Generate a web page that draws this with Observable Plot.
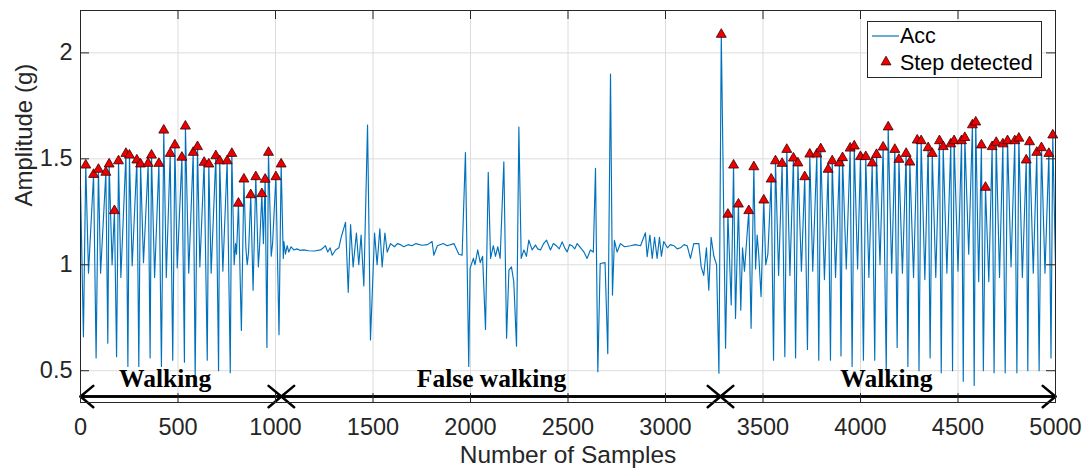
<!DOCTYPE html>
<html>
<head>
<meta charset="utf-8">
<script src="https://cdn.jsdelivr.net/npm/d3@7"></script>
<script src="https://cdn.jsdelivr.net/npm/@observablehq/plot@0.6"></script>
<style>
  body { margin: 0; background: #fff; }
  #wrap { position: relative; width: 1086px; height: 469px; font-family: "Liberation Sans", Arial, sans-serif; color: #262626; }
  #legend { position: absolute; left: 867px; top: 21px; width: 175px; height: 57px; border: 1px solid #262626; background: #fff; box-sizing: border-box; }
  #legend .lab { position: absolute; font-size: 21.5px; line-height: 22px; color: #000; white-space: nowrap; }
  #legend svg { position: absolute; overflow: visible; }
</style>
</head>
<body>
<div id="wrap"></div>
<script>
// ---------------- data ----------------
const accX = [
  0, 15, 27, 41, 67, 80, 92, 103, 130, 140, 147, 162, 174, 185, 195, 207, 233, 243, 251, 265,
  289, 299, 308, 323, 347, 357, 364, 380, 402, 415, 427, 440, 460, 473, 484, 496, 520, 533, 538, 555,
  578, 588, 600, 612, 634, 650, 658, 670, 694, 708, 714, 730, 752, 768, 776, 788, 795, 800, 810, 825,
  838, 848, 855, 862, 873, 885, 899, 912, 918, 930, 938, 947, 956, 964, 978, 985, 1002, 1018, 1029, 1040,
  1043, 1051, 1060, 1068, 1080, 1094, 1110, 1125, 1145, 1170, 1200, 1231, 1245, 1256, 1268, 1280, 1291, 1308, 1325,
  1337, 1359, 1373, 1385, 1398, 1415, 1427, 1439, 1453, 1472, 1487, 1508, 1521, 1535, 1547, 1561, 1573, 1590,
  1610, 1625, 1641, 1658, 1680, 1700, 1720, 1750, 1780, 1803, 1812, 1830, 1860, 1880, 1915, 1940, 1957,
  1974, 1991, 1998, 2015, 2023, 2037, 2050, 2062, 2077, 2091, 2103, 2117, 2128, 2140, 2152,
  2171, 2185, 2197, 2210, 2222, 2236, 2248, 2260, 2274, 2287, 2299, 2316, 2333, 2345, 2359, 2375, 2390, 2410,
  2425, 2440, 2455, 2470, 2483, 2496, 2508, 2520, 2535, 2547, 2565, 2581, 2598, 2615, 2630, 2641, 2653, 2665, 2690, 2704, 2718, 2728,
  2738, 2752, 2769, 2790, 2821, 2845, 2872, 2897, 2906, 2920, 2932, 2944, 2957, 2969, 2979, 2991, 3010, 3025, 3043,
  3060, 3077, 3095, 3111, 3128, 3145, 3171, 3183, 3196, 3210, 3222, 3234, 3248, 3262, 3274,
  3286, 3308, 3320, 3337, 3349, 3359, 3374, 3386, 3395, 3405, 3427, 3439, 3453, 3462, 3470, 3478, 3490,
  3504, 3514, 3525, 3542, 3554, 3564, 3580, 3598, 3612, 3622, 3638, 3656, 3667, 3679, 3697, 3714, 3728,
  3740, 3755, 3776, 3786, 3796, 3815, 3834, 3846, 3855, 3872, 3892, 3900, 3908, 3927, 3947, 3957, 3968,
  3985, 4000, 4015, 4027, 4043, 4060, 4073, 4082, 4100, 4116, 4132, 4142, 4160, 4176, 4188, 4197, 4215,
  4234, 4243, 4253, 4272, 4291, 4300, 4311, 4330, 4347, 4357, 4368, 4386, 4405, 4414, 4424, 4443, 4463,
  4472, 4480, 4500, 4518, 4527, 4535, 4555, 4574, 4583, 4591, 4606, 4620, 4630, 4641, 4658, 4675, 4685,
  4696, 4713, 4730, 4742, 4754, 4772, 4791, 4802, 4812, 4830, 4850, 4858, 4867, 4886, 4904, 4916, 4928,
  4946, 4966, 4977, 4986, 5000
];
const accY = [
  1.37, 0.66, 1.47, 0.96, 1.426, 0.56, 1.45, 0.96, 1.436, 0.63, 1.475, 1.0, 1.255, 0.566, 1.49, 0.94, 1.525, 0.52, 1.517, 0.995,
  1.494, 0.52, 1.475, 1.01, 1.478, 0.56, 1.517, 0.94, 1.478, 0.52, 1.635, 0.94, 1.525, 0.55, 1.565, 0.985, 1.507, 0.54, 1.654, 0.96,
  1.53, 0.47, 1.557, 0.99, 1.483, 0.55, 1.475, 0.96, 1.514, 0.5, 1.49, 0.97, 1.49, 0.49, 1.525, 1.0, 1.1, 1.05, 1.29, 0.69,
  1.404, 1.08, 1.0, 1.06, 1.33, 0.88, 1.415, 0.99, 1.08, 1.335, 1.1, 1.403, 0.61, 1.53, 1.04, 1.1, 1.415, 0.67, 1.475, 1.03,
  1.11, 1.05, 1.09, 1.06, 1.085, 1.07, 1.075, 1.068, 1.07, 1.066, 1.065, 1.07, 1.08, 1.09, 1.06, 1.08, 1.045, 1.07, 1.08,
  1.13, 1.2, 0.87, 1.19, 0.99, 1.15, 1.0, 1.14, 0.9, 1.659, 0.645, 1.15, 1.0, 1.17, 0.99, 1.15, 1.06, 1.1,
  1.085, 1.1, 1.095, 1.085, 1.095, 1.09, 1.1, 1.092, 1.095, 1.11, 1.045, 1.09, 1.1, 1.09, 1.1, 1.05, 1.045,
  1.53, 0.52, 0.985, 1.03, 1.0, 1.07, 1.01, 1.04, 0.695, 1.436, 1.03, 1.09, 1.04, 1.085, 1.03,
  1.486, 0.653, 0.975, 0.99, 0.92, 0.616, 1.65, 1.03, 1.07, 1.04, 1.116, 1.07, 1.093, 1.075, 1.07, 1.1, 1.116, 1.07,
  1.1, 1.09, 1.075, 1.108, 1.08, 1.061, 1.095, 1.09, 1.075, 1.1, 1.08, 1.061, 1.03, 1.07, 1.06, 1.455, 0.495, 1.006, 1.01, 0.58, 1.9, 0.857,
  1.115, 1.06, 1.1, 1.085, 1.09, 1.095, 1.09, 1.151, 1.038, 1.14, 1.03, 1.13, 1.03, 1.13, 1.04, 1.11, 1.08, 1.095, 1.09,
  1.075, 1.08, 1.095, 1.09, 1.03, 1.1, 1.1, 0.99, 0.95, 1.08, 0.88, 1.13, 1.04, 1.0, 0.488,
  2.087, 0.606, 1.238, 0.81, 1.47, 0.747, 1.286, 0.786, 1.08, 0.97, 1.255, 0.7, 1.462, 0.98, 1.14, 1.05, 0.85,
  1.305, 1.0, 1.05, 1.404, 0.55, 1.49, 0.95, 1.478, 0.566, 1.544, 0.95, 1.503, 0.56, 1.48, 0.97, 1.415, 0.6,
  1.522, 0.97, 1.522, 0.55, 1.547, 0.93, 1.45, 0.55, 1.49, 0.94, 1.48, 0.57, 1.505, 0.98, 1.55, 0.52, 1.56,
  0.98, 1.51, 0.55, 1.51, 0.94, 1.48, 0.55, 1.52, 1.0, 1.555, 0.5, 1.65, 0.96, 1.544, 0.61, 1.497, 0.96,
  1.525, 0.52, 1.484, 0.94, 1.588, 0.5, 1.585, 0.93, 1.552, 0.56, 1.525, 0.94, 1.585, 0.49, 1.557, 0.96, 1.57,
  0.5, 1.585, 0.97, 1.585, 0.45, 1.6, 1.05, 1.66, 0.43, 1.673, 0.92, 1.565, 0.5, 1.365, 0.92, 1.557, 0.49,
  1.577, 0.94, 1.57, 0.49, 1.585, 0.99, 1.585, 0.49, 1.597, 0.94, 1.494, 0.5, 1.58, 0.96, 1.53, 0.5, 1.552,
  0.96, 1.525, 0.56, 1.612, 1.0
];
// samples at which a step was detected (marker sits on the Acc value there)
const stepX = [
  27, 67, 92, 130, 147, 174, 195, 233, 251, 289, 308, 347, 364, 402, 427, 460, 484, 520, 538, 578,
  600, 634, 658, 694, 714, 752, 776, 810, 838, 873, 899, 930, 947, 964, 1002, 1029,
  3286, 3320, 3349, 3374, 3427, 3453, 3504, 3542, 3564, 3598, 3622, 3656, 3679, 3714, 3740, 3776, 3796,
  3834, 3855, 3892, 3908, 3947, 3968, 4000, 4027, 4060, 4082, 4116, 4142, 4176, 4197, 4234, 4253, 4291,
  4311, 4347, 4368, 4405, 4424, 4463, 4480, 4518, 4535, 4574, 4591, 4620, 4641, 4675, 4696, 4730, 4754,
  4791, 4812, 4850, 4867, 4904, 4928, 4966, 4986
];
const xTicks = [0, 500, 1000, 1500, 2000, 2500, 3000, 3500, 4000, 4500, 5000];
const xTickLabels = ["0", "500", "1000", "1500", "2000", "2500", "3000", "3500", "4000", "4500", "5000"];
const yTicks = [0.5, 1, 1.5, 2];
const yTickLabels = ["0.5", "1", "1.5", "2"];
const segStart = [0, 1030, 3282];
const segEnd = [1030, 3282, 5000];
const segLabel = ["Walking", "False walking", "Walking"];
const segLabelX = [434, 2108, 4133];
const arrowLevel = 0.378;
const segLabelLevel = 0.421;
const xTitle = "Number of Samples";
const yTitle = "Amplitude (g)";
const legendLabels = ["Acc", "Step detected"];

// ---------------- build ----------------
const acc = accX.map((x, i) => ({x, y: accY[i]}));
const steps = stepX.map(x => ({x, y: accY[accX.indexOf(x)]}));
const segs = segStart.map((s, i) => ({start: s, end: segEnd[i], label: segLabel[i], lx: segLabelX[i]}));
const xFmt = new Map(xTicks.map((t, i) => [t, xTickLabels[i]]));
const yFmt = new Map(yTicks.map((t, i) => [t, yTickLabels[i]]));

const W = 1086, H = 469, mt = 10, mr = 31, mb = 67, ml = 80;
const fw = W - ml - mr, fh = H - mt - mb, tl = 9;
const lineColor = "#0072BD";
const ink = "#262626";

const chart = Plot.plot({
  width: W, height: H,
  marginTop: mt, marginRight: mr, marginBottom: mb, marginLeft: ml,
  style: {fontFamily: '"Liberation Sans", Arial, sans-serif', fontSize: "23px", color: ink, background: "#fff"},
  x: {domain: [0, 5000], label: null},
  y: {domain: [0.35, 2.2], label: null},
  marks: [
    Plot.gridX(xTicks, {stroke: "#dcdcdc", strokeOpacity: 1}),
    Plot.gridY(yTicks, {stroke: "#dcdcdc", strokeOpacity: 1}),
    Plot.line(acc, {x: "x", y: "y", stroke: lineColor, strokeWidth: 1.15}),
    Plot.dot(steps, {x: "x", y: "y", symbol: "triangle", r: 3.7, fill: "#ee0000", stroke: "#3a0000", strokeWidth: 0.8}),
    Plot.arrow(segs, {x1: "start", x2: "end", y1: () => arrowLevel, y2: () => arrowLevel, stroke: "#000", strokeWidth: 2.5, headLength: 10, headAngle: 80}),
    Plot.arrow(segs, {x1: "end", x2: "start", y1: () => arrowLevel, y2: () => arrowLevel, stroke: "#000", strokeWidth: 2.5, headLength: 10, headAngle: 80}),
    Plot.text(segs, {x: "lx", y: () => segLabelLevel, text: "label", lineAnchor: "bottom", fontFamily: '"Liberation Serif", "Times New Roman", serif', fontWeight: "bold", fontSize: 25.5, fill: "#000"}),
    Plot.tickX(xTicks, {x: d => d, insetTop: fh - tl, stroke: ink}),
    Plot.tickX(xTicks, {x: d => d, insetBottom: fh - tl, stroke: ink}),
    Plot.tickY(yTicks, {y: d => d, insetRight: fw - tl, stroke: ink}),
    Plot.tickY(yTicks, {y: d => d, insetLeft: fw - tl, stroke: ink}),
    Plot.axisX(xTicks, {anchor: "bottom", tickSize: 0, tickPadding: 16, tickFormat: d => xFmt.get(d), fontSize: 23.5, label: null, fill: ink}),
    Plot.axisY(yTicks, {anchor: "left", tickSize: 0, tickPadding: 8, tickFormat: d => yFmt.get(d), fontSize: 23.5, label: null, fill: ink}),
    Plot.text([xTitle], {text: d => d, frameAnchor: "bottom", dy: 60, lineAnchor: "bottom", fontSize: 24.5, fill: ink}),
    Plot.text([yTitle], {text: d => d, frameAnchor: "left", dx: -49, rotate: -90, lineAnchor: "bottom", fontSize: 24, fill: ink}),
    Plot.frame({stroke: ink, strokeWidth: 1})
  ]
});

const wrap = document.getElementById("wrap");
wrap.appendChild(chart);

// legend (inside axes, top right)
const legend = document.createElement("div");
legend.id = "legend";
legend.innerHTML = `
  <svg style="left:4px;top:9px" width="27" height="10"><line x1="0" x2="27" y1="5" y2="5" stroke="${lineColor}" stroke-width="1.2"/></svg>
  <span class="lab" style="left:32px;top:3px">${legendLabels[0]}</span>
  <svg style="left:8px;top:30px" width="20" height="20"><path transform="translate(10,10)" d="${d3.symbol(d3.symbolTriangle, Math.PI * 3.7 * 3.7)()}" fill="#ee0000" stroke="#3a0000" stroke-width="0.8"/></svg>
  <span class="lab" style="left:32px;top:30px">${legendLabels[1]}</span>`;
wrap.appendChild(legend);
</script>
</body>
</html>
